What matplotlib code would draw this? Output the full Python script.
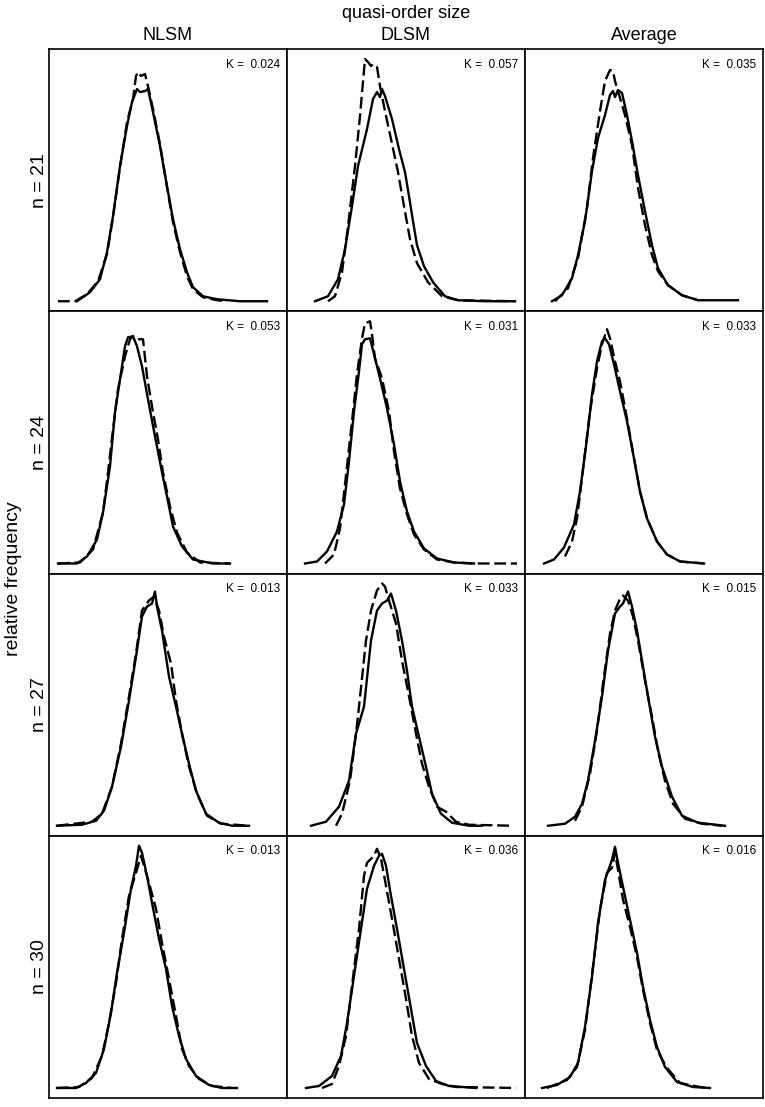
import matplotlib
matplotlib.use("Agg")
from matplotlib import pyplot as plt

plt.rcParams['font.family'] = ['Liberation Sans', 'DejaVu Sans']

# x = quasi-order size, y = relative frequency (both, panel units)
n_values = [21, 24, 27, 30]
methods = ['NLSM', 'DLSM', 'Average']
k_values = [[0.024, 0.057, 0.035],
            [0.053, 0.031, 0.033],
            [0.013, 0.033, 0.015],
            [0.013, 0.036, 0.016]]

# n = 21
x_nlsm21 = [28, 41, 51, 58, 64, 71, 78, 83, 88, 91, 96, 99, 104, 111, 118, 124, 131, 138, 144, 154, 168, 191, 218]
y_nlsm21 = [10, 19, 32, 59, 95, 145, 185, 209, 222, 219, 220, 222, 199, 165, 125, 92, 62, 39, 24, 15, 12, 10, 10]
x2_nlsm21 = [9, 26, 38, 49, 58, 64, 71, 78, 84, 87, 89, 92, 96, 99, 104, 111, 118, 124, 131, 138, 144, 154, 168, 178]
y2_nlsm21 = [10, 10, 17, 30, 57, 94, 144, 189, 212, 235, 239, 235, 237, 225, 202, 167, 124, 89, 59, 35, 22, 14, 11, 10]

x_dlsm21 = [28, 41, 51, 58, 65, 71, 80, 86, 90, 93, 95, 98, 105, 112, 118, 122, 126, 130, 137, 146, 158, 171, 198, 228]
y_dlsm21 = [10, 15, 32, 62, 105, 145, 182, 212, 219, 214, 222, 215, 192, 162, 139, 115, 90, 66, 45, 29, 15, 11, 10, 10]
x2_dlsm21 = [41, 48, 55, 61, 68, 73, 78, 81, 84, 86, 90, 93, 98, 104, 111, 117, 123, 130, 141, 155, 171, 228]
y2_dlsm21 = [10, 15, 39, 85, 145, 195, 252, 249, 245, 247, 244, 225, 200, 172, 139, 105, 72, 48, 29, 15, 11, 10]

x_avg21 = [27, 37, 47, 53, 60, 67, 73, 80, 85, 88, 90, 93, 97, 102, 107, 113, 120, 127, 133, 143, 157, 173, 213]
y_avg21 = [10, 16, 33, 56, 90, 140, 173, 196, 216, 220, 214, 221, 218, 196, 170, 136, 100, 66, 43, 26, 16, 11, 11]
x2_avg21 = [30, 43, 53, 62, 68, 75, 80, 85, 88, 90, 95, 100, 107, 113, 120, 127, 133, 143, 157, 173]
y2_avg21 = [10, 23, 53, 103, 153, 200, 230, 241, 240, 230, 213, 196, 166, 123, 86, 56, 40, 26, 16, 11]

# n = 24
x_nlsm24 = [9, 28, 38, 48, 54, 61, 66, 71, 76, 79, 84, 88, 93, 99, 106, 113, 118, 124, 133, 144, 164, 181]
y_nlsm24 = [10, 10, 17, 34, 61, 107, 161, 194, 227, 236, 237, 227, 207, 174, 137, 101, 77, 47, 27, 14, 10, 10]
x2_nlsm24 = [9, 31, 44, 54, 59, 64, 69, 76, 81, 84, 89, 94, 98, 104, 109, 114, 121, 128, 138, 151, 181]
y2_nlsm24 = [10, 11, 24, 61, 101, 144, 184, 217, 234, 237, 234, 234, 197, 161, 134, 101, 67, 41, 21, 11, 10]

x_dlsm24 = [18, 30, 40, 50, 57, 62, 67, 72, 75, 78, 83, 87, 93, 100, 107, 113, 120, 127, 137, 150, 167, 187]
y_dlsm24 = [10, 12, 22, 42, 69, 112, 162, 202, 229, 234, 235, 219, 195, 165, 129, 92, 62, 42, 25, 15, 11, 10]
x2_dlsm24 = [38, 47, 53, 58, 65, 70, 75, 78, 83, 85, 88, 95, 102, 107, 113, 120, 127, 137, 150, 167, 187, 230]
y2_dlsm24 = [10, 19, 45, 89, 152, 199, 235, 250, 252, 239, 215, 195, 162, 122, 85, 59, 39, 24, 14, 11, 10, 10]

x_avg24 = [19, 29, 39, 49, 55, 62, 67, 72, 77, 80, 84, 89, 95, 102, 109, 115, 122, 132, 142, 155, 179]
y_avg24 = [10, 14, 26, 49, 82, 135, 179, 212, 232, 235, 229, 209, 182, 152, 115, 82, 55, 32, 19, 12, 10]
x2_avg24 = [40, 47, 52, 59, 65, 72, 77, 82, 85, 90, 95, 102, 109, 115, 122, 132, 142, 155, 179]
y2_avg24 = [17, 32, 55, 112, 162, 205, 229, 244, 235, 212, 192, 155, 115, 82, 55, 32, 19, 12, 10]

# n = 27
x_nlsm27 = [8, 33, 47, 55, 63, 72, 80, 87, 93, 98, 103, 106, 108, 113, 120, 127, 133, 140, 147, 157, 170, 183, 200]
y_nlsm27 = [10, 11, 15, 25, 49, 89, 135, 179, 219, 229, 232, 244, 229, 205, 159, 129, 102, 72, 45, 22, 13, 10, 10]
x2_nlsm27 = [8, 43, 53, 63, 72, 80, 87, 93, 100, 105, 110, 115, 122, 127, 133, 140, 148, 158, 172, 200]
y2_nlsm27 = [10, 14, 22, 49, 92, 139, 182, 225, 235, 239, 225, 199, 172, 135, 102, 69, 42, 20, 12, 10]

x_dlsm27 = [24, 39, 52, 62, 69, 77, 84, 90, 95, 100, 104, 109, 115, 120, 125, 132, 139, 145, 154, 165, 182, 195]
y_dlsm27 = [10, 14, 29, 55, 102, 129, 195, 225, 232, 235, 242, 225, 195, 165, 129, 99, 69, 42, 22, 13, 10, 10]
x2_dlsm27 = [49, 55, 63, 69, 72, 79, 84, 90, 95, 98, 102, 109, 115, 124, 129, 135, 142, 150, 159, 169, 182, 225]
y2_dlsm27 = [10, 22, 55, 102, 129, 195, 225, 245, 252, 249, 235, 212, 175, 129, 102, 72, 49, 29, 24, 14, 11, 10]

x_avg27 = [23, 40, 50, 57, 63, 70, 77, 83, 90, 95, 98, 103, 107, 112, 117, 123, 130, 137, 147, 157, 173, 200]
y_avg27 = [10, 12, 19, 32, 55, 95, 139, 185, 222, 229, 232, 244, 229, 205, 175, 139, 99, 69, 39, 20, 13, 10]
x2_avg27 = [50, 57, 65, 72, 78, 85, 90, 95, 98, 103, 108, 113, 120, 127, 133, 140, 148, 160, 177, 197]
y2_avg27 = [15, 29, 62, 105, 152, 202, 225, 237, 240, 235, 219, 195, 155, 119, 85, 55, 32, 17, 12, 10]

# n = 30
x_nlsm30 = [8, 27, 37, 47, 55, 62, 68, 75, 82, 87, 90, 93, 98, 103, 110, 117, 123, 130, 137, 147, 160, 173, 188]
y_nlsm30 = [10, 10, 15, 25, 49, 85, 125, 165, 209, 232, 252, 245, 222, 195, 159, 129, 92, 62, 39, 22, 13, 10, 10]
x2_nlsm30 = [8, 30, 43, 53, 60, 67, 73, 80, 87, 92, 95, 100, 107, 113, 120, 127, 133, 140, 150, 163, 183]
y2_nlsm30 = [10, 11, 20, 42, 75, 115, 159, 202, 225, 242, 232, 215, 189, 155, 119, 82, 49, 32, 19, 12, 10]

x_dlsm30 = [19, 32, 45, 54, 60, 67, 74, 80, 87, 92, 95, 99, 104, 110, 117, 124, 130, 139, 149, 162, 189]
y_dlsm30 = [10, 12, 22, 42, 75, 122, 169, 209, 232, 242, 244, 232, 202, 169, 129, 89, 55, 32, 17, 12, 10]
x2_dlsm30 = [35, 45, 52, 59, 65, 72, 77, 80, 87, 90, 94, 99, 105, 112, 119, 125, 132, 142, 155, 169, 229]
y2_dlsm30 = [10, 14, 32, 62, 112, 169, 222, 235, 242, 249, 239, 212, 179, 139, 99, 62, 35, 19, 14, 11, 10]

x_avg30 = [17, 32, 45, 53, 60, 67, 73, 80, 87, 90, 93, 98, 105, 112, 118, 125, 132, 140, 152, 168, 185]
y_avg30 = [10, 13, 21, 35, 71, 121, 175, 218, 238, 251, 235, 211, 178, 145, 111, 78, 51, 31, 16, 11, 10]
x2_avg30 = [22, 42, 52, 60, 68, 75, 82, 87, 90, 93, 98, 105, 112, 118, 125, 132, 142, 155, 175, 185]
y2_avg30 = [10, 18, 31, 68, 131, 188, 225, 230, 245, 228, 198, 171, 141, 108, 75, 48, 30, 15, 11, 10]

panels = [
    [(x_nlsm21, y_nlsm21, x2_nlsm21, y2_nlsm21), (x_dlsm21, y_dlsm21, x2_dlsm21, y2_dlsm21), (x_avg21, y_avg21, x2_avg21, y2_avg21)],
    [(x_nlsm24, y_nlsm24, x2_nlsm24, y2_nlsm24), (x_dlsm24, y_dlsm24, x2_dlsm24, y2_dlsm24), (x_avg24, y_avg24, x2_avg24, y2_avg24)],
    [(x_nlsm27, y_nlsm27, x2_nlsm27, y2_nlsm27), (x_dlsm27, y_dlsm27, x2_dlsm27, y2_dlsm27), (x_avg27, y_avg27, x2_avg27, y2_avg27)],
    [(x_nlsm30, y_nlsm30, x2_nlsm30, y2_nlsm30), (x_dlsm30, y_dlsm30, x2_dlsm30, y2_dlsm30), (x_avg30, y_avg30, x2_avg30, y2_avg30)],
]

W, H = 765, 1107
fig = plt.figure(figsize=(W / 100, H / 100), dpi=100)

left, top = 49, 49
cw, rh = 238, 262.25

for i in range(4):
    for j in range(3):
        x0 = left + j * cw
        y0 = top + (i + 1) * rh
        ax = fig.add_axes([x0 / W, 1 - y0 / H, cw / W, rh / H])
        xs, ys, xd, yd = panels[i][j]
        ax.plot(xd, yd, color='black', lw=1.7, linestyle=(0, (5, 2)))
        ax.plot(xs, ys, color='black', lw=1.7)
        ax.set_xlim(0, 238)
        ax.set_ylim(0, 262)
        ax.set_xticks([])
        ax.set_yticks([])
        for s in ax.spines.values():
            s.set_linewidth(1.2)
        ax.text(0.97, 0.94, 'K =  %.3f' % k_values[i][j], transform=ax.transAxes,
                ha='right', va='center', fontsize=8.5)

# titles
fig.text((left + 1.5 * cw) / W, 1 - 13 / H, 'quasi-order size', ha='center', va='center', fontsize=13)
for j, m in enumerate(methods):
    fig.text((left + (j + 0.5) * cw) / W, 1 - 36 / H, m, ha='center', va='center', fontsize=13)
for i, n in enumerate(n_values):
    fig.text(39 / W, 1 - (top + (i + 0.5) * rh) / H, 'n = %d' % n, ha='center', va='center',
             rotation=90, fontsize=14)
fig.text(14 / W, 1 - (top + 2 * rh + 5) / H, 'relative frequency', ha='center', va='center',
         rotation=90, fontsize=14)

fig.savefig('out.png', dpi=100)
